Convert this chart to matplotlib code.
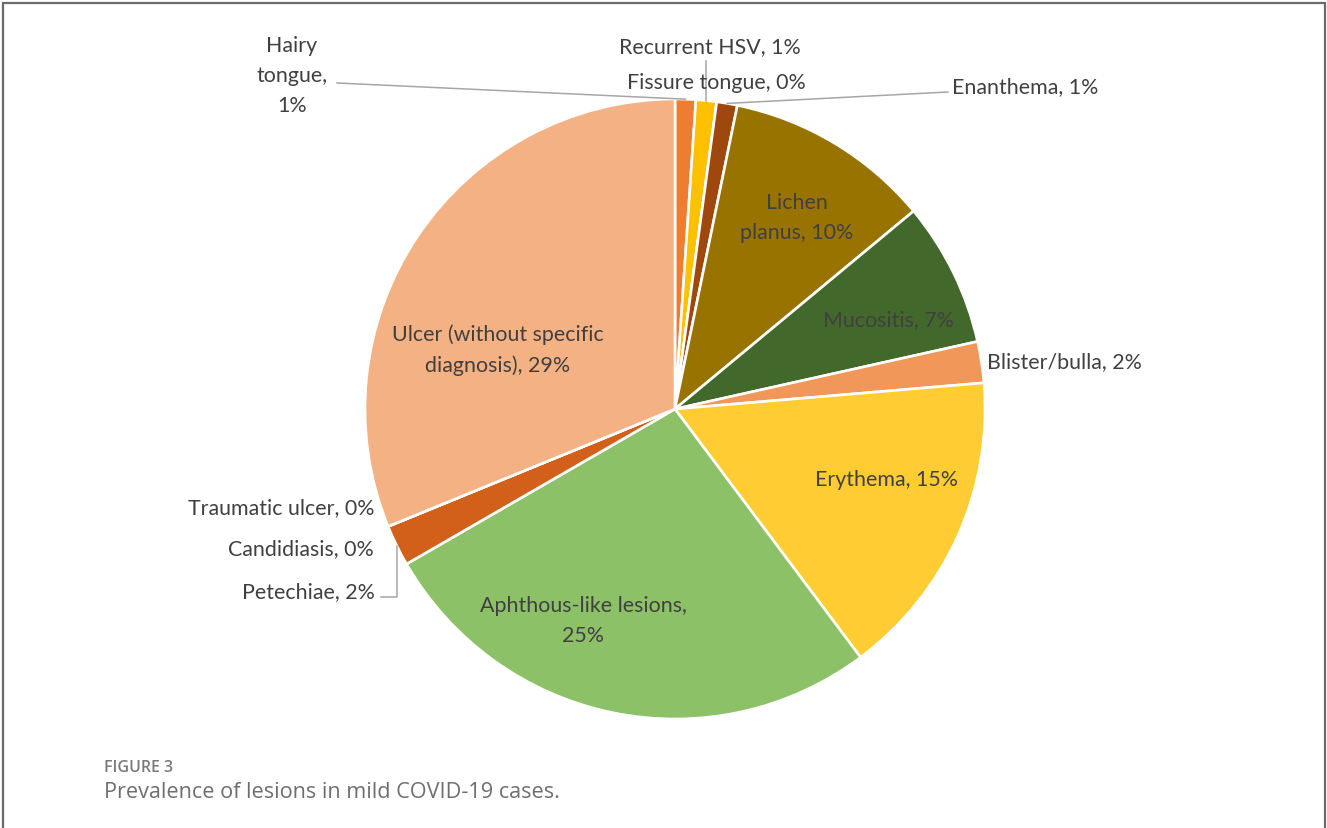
import matplotlib
matplotlib.use("Agg")
import matplotlib.pyplot as plt
import numpy as np

W, H = 1327, 829

# Lesion categories, clockwise from 12 o'clock
categories = [
    "Hairy tongue", "Recurrent HSV", "Fissure tongue", "Enanthema",
    "Lichen planus", "Mucositis", "Blister/bulla", "Erythema",
    "Aphthous-like lesions", "Petechiae", "Candidiasis", "Traumatic ulcer",
    "Ulcer (without specific diagnosis)",
]
percent = [1, 1, 0, 1, 10, 7, 2, 15, 25, 2, 0, 0, 29]
colors = [
    "#ED7D31", "#FFC000", "#A5A5A5", "#9E480E",
    "#997300", "#43682B", "#F1975A", "#FFCD33",
    "#8CC168", "#D2601A", "#5B9BD5", "#70AD47",
    "#F4B183",
]

# Label texts as printed on the chart
label_text = {
    "Hairy tongue": "Hairy\ntongue,\n1%",
    "Recurrent HSV": "Recurrent HSV, 1%",
    "Fissure tongue": "Fissure tongue, 0%",
    "Enanthema": "Enanthema, 1%",
    "Lichen planus": "Lichen\nplanus, 10%",
    "Mucositis": "Mucositis, 7%",
    "Blister/bulla": "Blister/bulla, 2%",
    "Erythema": "Erythema, 15%",
    "Aphthous-like lesions": "Aphthous-like lesions,\n25%",
    "Petechiae": "Petechiae, 2%",
    "Candidiasis": "Candidiasis, 0%",
    "Traumatic ulcer": "Traumatic ulcer, 0%",
    "Ulcer (without specific diagnosis)": "Ulcer (without specific\ndiagnosis), 29%",
}

TEXT = "#404040"
LEADER = "#A6A6A6"
FONT = "Lato"


def P(x, y):
    """Pixel position (origin top-left) -> data coordinates."""
    return x, H - y


fig = plt.figure(figsize=(W / 100, H / 100), dpi=100)
ax = fig.add_axes([0, 0, 1, 1])
ax.set_xlim(0, W)
ax.set_ylim(0, H)
ax.set_aspect("equal")
ax.axis("off")

cx, cy = P(675, 410)
R = 310
wedges, _ = ax.pie(
    percent, colors=colors, startangle=90, counterclock=False,
    center=(cx, cy), radius=R, normalize=True,
    wedgeprops=dict(edgecolor="white", linewidth=1.9),
)
ax.set_xlim(0, W)
ax.set_ylim(0, H)


def edge_point(i, frac=1.0):
    w = wedges[i]
    mid = np.deg2rad((w.theta1 + w.theta2) / 2)
    return cx + R * frac * np.cos(mid), cy + R * frac * np.sin(mid)


def lab(name, x, y, ha="center", color=TEXT):
    ax.text(*P(x, y), label_text[name], ha=ha, va="center", fontsize=15.4,
            family=FONT, color=color, linespacing=1.62)


# Labels inside wedges
lab("Lichen planus", 797, 218)
lab("Mucositis", 888, 320)
lab("Erythema", 887, 480)
lab("Aphthous-like lesions", 583, 621)
lab("Ulcer (without specific diagnosis)", 498, 350)

# Outside labels
lab("Hairy tongue", 292, 76)
lab("Recurrent HSV", 710, 47)
lab("Fissure tongue", 716, 83)
lab("Enanthema", 952, 87, ha="left")
lab("Blister/bulla", 987, 362, ha="left")
lab("Traumatic ulcer", 374, 508, ha="right")
lab("Candidiasis", 374, 549, ha="right")
lab("Petechiae", 375, 592, ha="right")

# Leader lines
idx = {c: i for i, c in enumerate(categories)}
ex, ey = edge_point(idx["Hairy tongue"])
ax.plot([P(337, 84)[0], ex], [P(337, 84)[1], ey], color=LEADER, lw=1.1)
ex, ey = edge_point(idx["Recurrent HSV"])
ax.plot([ex, ex], [P(0, 62)[1], ey], color=LEADER, lw=1.1)
ex, ey = edge_point(idx["Enanthema"])
ax.plot([P(948, 93)[0], ex], [P(948, 93)[1], ey], color=LEADER, lw=1.1)
ex, ey = edge_point(idx["Petechiae"])
ax.plot([P(381, 0)[0], ex, ex], [P(0, 598)[1], P(0, 598)[1], ey],
        color=LEADER, lw=1.1)

# Figure frame (top, left, right)
FR = "#6B6B6B"
ax.plot([3, 3, W - 2, W - 2], [0, H - 4, H - 4, 0], color=FR, lw=1.6,
        solid_joinstyle="miter")

# Caption
ax.text(*P(104, 768), "FIGURE 3", ha="left", va="center", fontsize=11.5,
        family="Open Sans", fontweight="semibold", color="#7A7A7A")
ax.text(*P(104, 793), "Prevalence of lesions in mild COVID-19 cases.",
        ha="left", va="center", fontsize=15.6, family="Open Sans",
        color="#6E6E6E")

fig.savefig("out.png", dpi=100)
